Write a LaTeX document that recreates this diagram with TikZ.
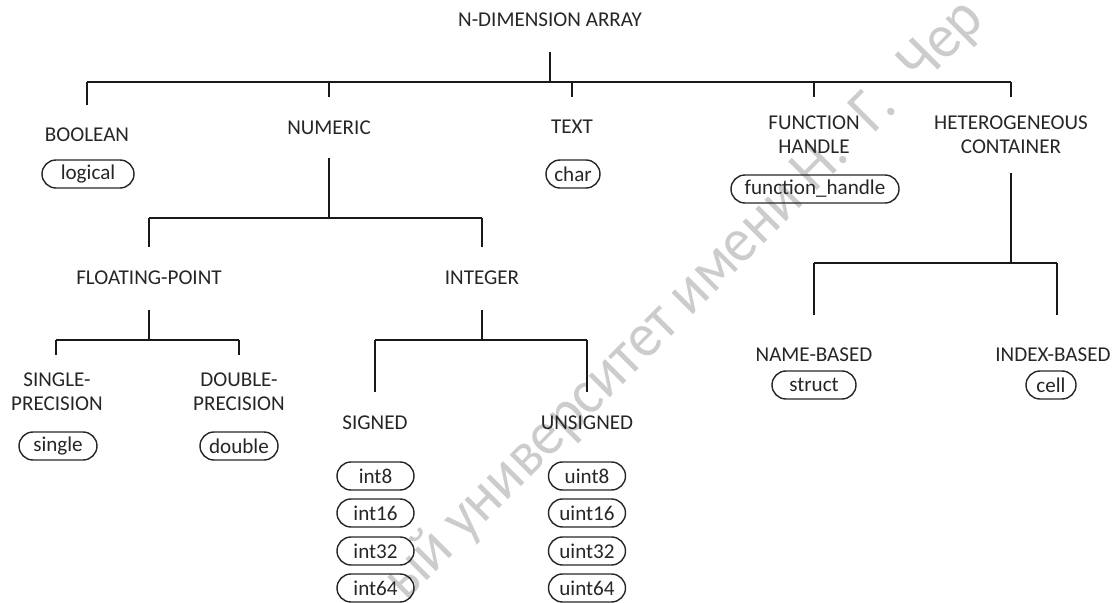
\documentclass[tikz,border=0pt]{standalone}
\usepackage{fontspec}
\setmainfont{Carlito}
\newfontfamily\wmfont[FakeStretch=0.92]{Carlito}
\usepackage{tikz}

\begin{document}
\begin{tikzpicture}[scale=0.2]
% Styles
\tikzstyle{none} = []
\tikzstyle{typename}=[text=black!85, align=center, inner sep=0cm, font=\fontsize{12}{13.5}\selectfont]
\tikzstyle{pill}=[draw=black!85, line width=0.8pt, rounded corners=0.28cm, minimum height=0.56cm, inner sep=0cm, text=black!85, font=\fontsize{12}{13.5}\selectfont]
\tikzstyle{branch}=[-, draw=black!90, line width=0.8pt]
\tikzstyle{watermark}=[text=black!20, inner sep=0cm, font=\wmfont\fontsize{36}{38}\selectfont]

\useasboundingbox (0, 0) rectangle (111.8, -60.3);

\node [style=watermark, rotate=45, anchor=base west] (99) at (40.6, -60.2) {ый университет имени Н. \hspace{0.3em}Г. \hspace{0.3em}Чер};

\node [style=typename] (0) at (55.0, -2.0) {N-DIMENSION ARRAY};
\node [style=none] (1) at (55.0, -5.2) {};
\node [style=none] (2) at (55.0, -8.2) {};
\node [style=none] (3) at (8.7, -8.2) {};
\node [style=none] (4) at (32.9, -8.2) {};
\node [style=none] (5) at (57.2, -8.2) {};
\node [style=none] (6) at (81.4, -8.2) {};
\node [style=none] (7) at (101.1, -8.2) {};
\node [style=none] (8) at (8.7, -10.5) {};
\node [style=none] (9) at (32.9, -9.7) {};
\node [style=none] (10) at (57.2, -9.7) {};
\node [style=none] (11) at (81.4, -9.7) {};
\node [style=none] (12) at (101.1, -9.7) {};

\node [style=typename] (13) at (8.7, -13.5) {BOOLEAN};
\node [style=typename] (14) at (32.9, -12.8) {NUMERIC};
\node [style=typename] (15) at (57.2, -12.7) {TEXT};
\node [style=typename] (16) at (81.4, -13.45) {FUNCTION\\HANDLE};
\node [style=typename] (17) at (101.1, -13.45) {HETEROGENEOUS\\CONTAINER};
\node [style=pill, minimum width=1.84cm] (18) at (8.8, -17.4) {logical};
\node [style=pill, minimum width=1.08cm] (19) at (57.3, -17.4) {char};
\node [style=pill, minimum width=3.36cm] (20) at (81.5, -18.9) {function\_handle};

\node [style=none] (21) at (32.9, -15.8) {};
\node [style=none] (22) at (32.9, -21.8) {};
\node [style=none] (23) at (14.9, -21.8) {};
\node [style=none] (24) at (48.2, -21.8) {};
\node [style=none] (25) at (14.9, -24.7) {};
\node [style=none] (26) at (48.2, -24.7) {};
\node [style=typename] (27) at (14.9, -27.8) {FLOATING-POINT};
\node [style=typename] (28) at (48.2, -27.8) {INTEGER};

\node [style=none] (29) at (14.9, -31.0) {};
\node [style=none] (30) at (14.9, -34.0) {};
\node [style=none] (31) at (5.6, -34.0) {};
\node [style=none] (32) at (23.9, -34.0) {};
\node [style=none] (33) at (5.6, -35.5) {};
\node [style=none] (34) at (23.9, -35.5) {};
\node [style=typename] (35) at (5.7, -39.15) {SINGLE-\\PRECISION};
\node [style=typename] (36) at (23.9, -39.15) {DOUBLE-\\PRECISION};
\node [style=pill, minimum width=1.56cm] (37) at (5.8, -44.6) {single};
\node [style=pill, minimum width=1.56cm] (38) at (23.9, -44.6) {double};

\node [style=none] (39) at (48.2, -31.0) {};
\node [style=none] (40) at (48.2, -34.0) {};
\node [style=none] (41) at (37.5, -34.0) {};
\node [style=none] (42) at (58.7, -34.0) {};
\node [style=none] (43) at (37.5, -39.2) {};
\node [style=none] (44) at (58.7, -39.2) {};
\node [style=typename] (45) at (37.5, -42.3) {SIGNED};
\node [style=typename] (46) at (58.7, -42.3) {UNSIGNED};
\node [style=pill, minimum width=1.54cm] (47) at (37.55, -47.6) {int8};
\node [style=pill, minimum width=1.54cm] (48) at (37.55, -51.3) {int16};
\node [style=pill, minimum width=1.54cm] (49) at (37.55, -55.1) {int32};
\node [style=pill, minimum width=1.54cm] (50) at (37.55, -58.8) {int64};
\node [style=pill, minimum width=1.54cm] (51) at (58.7, -47.6) {uint8};
\node [style=pill, minimum width=1.54cm] (52) at (58.7, -51.3) {uint16};
\node [style=pill, minimum width=1.54cm] (53) at (58.7, -55.1) {uint32};
\node [style=pill, minimum width=1.54cm] (54) at (58.7, -58.8) {uint64};

\node [style=none] (55) at (101.1, -17.3) {};
\node [style=none] (56) at (101.1, -26.3) {};
\node [style=none] (57) at (81.4, -26.3) {};
\node [style=none] (58) at (105.7, -26.3) {};
\node [style=none] (59) at (81.4, -31.5) {};
\node [style=none] (60) at (105.7, -31.5) {};
\node [style=typename] (61) at (81.4, -35.5) {NAME-BASED};
\node [style=typename] (62) at (105.3, -35.5) {INDEX-BASED};
\node [style=pill, minimum width=1.68cm] (63) at (81.4, -38.5) {struct};
\node [style=pill, minimum width=1.0cm] (64) at (105.1, -38.5) {cell};

\draw [style=branch] (1.center) to (2.center);
\draw [style=branch] (3.center) to (7.center);
\draw [style=branch] (3.center) to (8.center);
\draw [style=branch] (4.center) to (9.center);
\draw [style=branch] (5.center) to (10.center);
\draw [style=branch] (6.center) to (11.center);
\draw [style=branch] (7.center) to (12.center);
\draw [style=branch] (21.center) to (22.center);
\draw [style=branch] (23.center) to (24.center);
\draw [style=branch] (23.center) to (25.center);
\draw [style=branch] (24.center) to (26.center);
\draw [style=branch] (29.center) to (30.center);
\draw [style=branch] (31.center) to (32.center);
\draw [style=branch] (31.center) to (33.center);
\draw [style=branch] (32.center) to (34.center);
\draw [style=branch] (39.center) to (40.center);
\draw [style=branch] (41.center) to (42.center);
\draw [style=branch] (41.center) to (43.center);
\draw [style=branch] (42.center) to (44.center);
\draw [style=branch] (55.center) to (56.center);
\draw [style=branch] (57.center) to (58.center);
\draw [style=branch] (57.center) to (59.center);
\draw [style=branch] (58.center) to (60.center);
\end{tikzpicture}
\end{document}
